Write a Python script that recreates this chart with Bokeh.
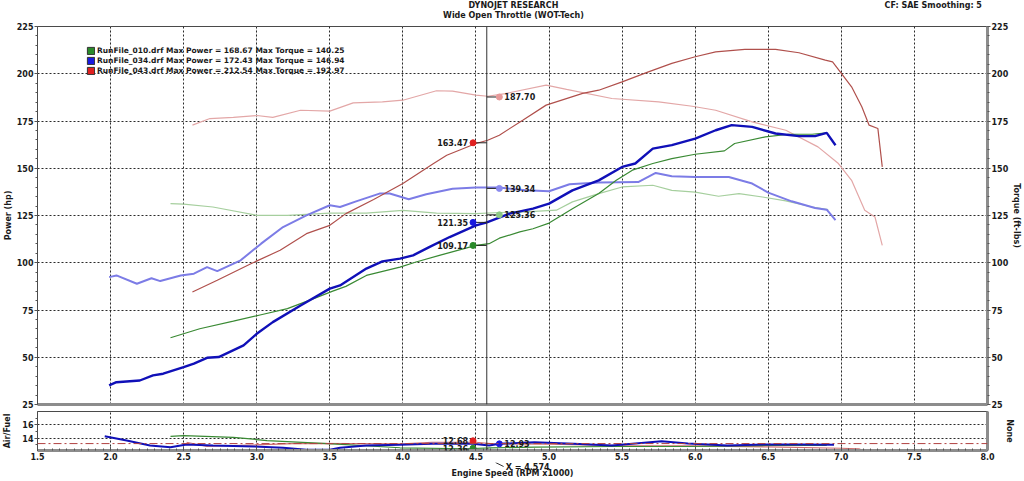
from bokeh.plotting import figure
from bokeh.models import (Range1d, LinearAxis, FixedTicker, Span, Label, Legend,
                          LegendItem, Grid, PrintfTickFormatter)
from bokeh.layouts import column
from bokeh.embed import file_html
from bokeh.resources import INLINE

# ---------------- data ----------------
run_names = ["RunFile_010.drf", "RunFile_034.drf", "RunFile_043.drf"]
max_power = [168.67, 172.43, 212.54]
max_torque = [140.25, 146.94, 192.97]

green_pwr_rpm = [2.41, 2.61, 2.84, 3.03, 3.21, 3.39, 3.52, 3.61, 3.75, 3.98, 4.09, 4.25, 4.50, 4.59,
                 4.66, 4.80, 4.89, 5.00, 5.16, 5.34, 5.46, 5.57, 5.71, 5.84, 6.00, 6.20, 6.27, 6.48,
                 6.64, 6.80, 6.90]
green_pwr = [60.3, 65.1, 69.1, 72.5, 75.7, 81.0, 85.0, 87.5, 93.3, 97.7, 100.4, 103.9, 109.2, 110.1,
             113.0, 116.3, 118.0, 121.0, 128.6, 136.6, 143.6, 149.0, 152.5, 155.1, 157.4, 159.2, 163.1,
             166.6, 168.0, 168.0, 168.7]
green_trq_rpm = [2.41, 2.50, 2.70, 3.00, 3.21, 3.50, 3.75, 4.00, 4.23, 4.50, 4.66, 4.84, 5.05, 5.16,
                 5.34, 5.50, 5.71, 5.84, 6.00, 6.16, 6.30, 6.46, 6.62, 6.80, 6.91]
green_trq = [131.3, 131.0, 129.5, 125.1, 125.1, 126.3, 126.3, 127.7, 126.3, 126.0, 126.6, 126.9, 127.8,
             132.2, 136.6, 140.1, 141.0, 138.3, 137.4, 135.2, 136.6, 134.8, 132.7, 129.5, 128.1]

blue_pwr_rpm = [1.99, 2.04, 2.20, 2.29, 2.36, 2.50, 2.57, 2.66, 2.74, 2.91, 3.00, 3.11, 3.30, 3.50,
                3.57, 3.75, 3.86, 3.98, 4.07, 4.18, 4.32, 4.50, 4.57, 4.73, 4.89, 5.00, 5.16, 5.34,
                5.50, 5.59, 5.71, 5.84, 6.00, 6.14, 6.25, 6.39, 6.55, 6.71, 6.82, 6.90, 6.96]
blue_pwr = [35.1, 36.8, 37.7, 40.4, 41.3, 44.8, 46.6, 49.7, 50.1, 56.3, 62.4, 68.6, 77.4, 86.3,
            88.0, 96.9, 100.7, 102.2, 103.9, 108.3, 113.6, 119.8, 121.2, 126.0, 128.6, 131.3, 138.3,
            143.6, 150.7, 152.5, 160.4, 162.2, 165.7, 170.1, 172.8, 171.9, 168.4, 167.0, 167.0,
            168.7, 162.2]
blue_trq_rpm = [1.99, 2.04, 2.18, 2.28, 2.34, 2.48, 2.57, 2.66, 2.73, 2.89, 3.03, 3.18, 3.34, 3.50,
                3.57, 3.68, 3.84, 3.91, 4.04, 4.16, 4.34, 4.50, 4.66, 4.84, 5.00, 5.14, 5.34, 5.61,
                5.73, 5.84, 6.00, 6.23, 6.39, 6.50, 6.66, 6.82, 6.90, 6.96]
blue_trq = [92.4, 93.3, 88.9, 91.8, 90.3, 93.3, 94.2, 97.7, 95.6, 101.3, 110.1, 118.9, 125.1, 130.4,
            129.5, 132.5, 136.6, 136.6, 133.6, 136.2, 139.2, 139.8, 139.8, 138.3, 137.8, 141.5,
            142.4, 142.7, 147.5, 145.8, 145.4, 145.4, 141.9, 137.1, 132.5, 129.0, 128.1, 122.5]

red_pwr_rpm = [2.56, 2.73, 2.96, 3.16, 3.34, 3.50, 3.61, 3.80, 4.00, 4.21, 4.30, 4.50, 4.58, 4.66,
               4.82, 4.98, 5.23, 5.34, 5.50, 5.68, 5.84, 6.00, 6.14, 6.34, 6.55, 6.71, 6.89, 6.94,
               7.00, 7.07, 7.14, 7.19, 7.25, 7.28]
red_pwr = [84.5, 90.7, 99.5, 106.6, 115.4, 119.8, 126.0, 133.5, 141.9, 152.5, 156.9, 163.1, 164.8,
           167.5, 175.4, 183.4, 189.6, 191.3, 195.7, 201.0, 205.5, 209.0, 211.6, 212.9, 212.9, 211.1,
           207.2, 206.3, 200.2, 193.1, 182.5, 172.8, 171.0, 150.7]
red_trq_rpm = [2.56, 2.68, 2.84, 3.00, 3.11, 3.30, 3.50, 3.66, 3.86, 4.00, 4.23, 4.34, 4.50, 4.58,
               4.70, 4.98, 5.12, 5.43, 5.75, 5.98, 6.14, 6.39, 6.62, 6.84, 6.98, 7.07, 7.16, 7.23, 7.28]
red_trq = [172.8, 176.3, 176.9, 177.9, 176.9, 180.7, 180.2, 184.6, 185.1, 186.0, 191.0, 190.8, 188.7,
           188.1, 189.5, 194.0, 191.7, 186.9, 185.1, 182.8, 180.7, 174.5, 170.1, 161.3, 152.5, 143.6,
           127.8, 124.2, 109.2]

blue_af_rpm = [1.96, 2.11, 2.27, 2.41, 2.52, 2.70, 2.98, 3.18, 3.34, 3.50, 3.57, 3.75, 3.98, 4.20,
               4.48, 4.59, 4.66, 4.90, 5.17, 5.43, 5.77, 5.95, 6.22, 6.48, 6.74, 6.95]
blue_af = [14.30, 13.66, 12.91, 12.66, 13.06, 12.91, 12.76, 12.57, 12.27, 12.27, 12.57, 12.91, 13.01,
           13.16, 13.16, 12.91, 13.16, 13.40, 13.16, 12.91, 13.55, 13.22, 12.91, 13.06, 13.06, 13.01]
green_af_rpm = [2.41, 2.50, 2.84, 3.07, 3.52, 3.98, 4.43, 4.60, 4.90, 5.43, 5.95, 6.48, 6.90]
green_af = [14.30, 14.40, 14.15, 13.66, 13.16, 12.57, 12.42, 12.57, 12.66, 12.76, 12.76, 12.91, 12.91]
red_af_rpm = [2.52, 2.66, 2.84, 3.30, 4.00, 4.20, 4.50, 4.60, 5.00, 5.50, 6.00, 6.50, 7.00, 7.12, 7.15]
red_af = [13.40, 12.76, 12.91, 13.22, 13.16, 13.40, 13.40, 13.20, 13.10, 12.90, 12.85, 12.70, 12.50,
          12.40, 12.16]
af_target = 13.2

cursor_rpm = 4.574
pwr_mark_rpm = 4.48
trq_mark_rpm = 4.66
pwr_marks = [163.47, 121.35, 109.17]       # red, blue, green
trq_marks = [187.70, 139.34, 125.36]       # red, blue, green
af_mark_rpm = [4.48, 4.48, 4.66]
af_mark_y = [13.62, 12.50, 13.16]
af_mark_text = ["12.68", "12.36", "12.93"]

x_ticks = [1.5, 2.0, 2.5, 3.0, 3.5, 4.0, 4.5, 5.0, 5.5, 6.0, 6.5, 7.0, 7.5, 8.0]
y_ticks = [25, 50, 75, 100, 125, 150, 175, 200, 225]
af_ticks = [14, 16]

title_1 = "DYNOJET RESEARCH"
title_2 = "Wide Open Throttle (WOT-Tech)"
title_cf = "CF: SAE  Smoothing: 5"

# ---------------- style ----------------
FONT = "DejaVu Sans"
INK = "#1a1a1a"
GRID = "#2a2a2a"
SHADOW = "#8c8c8c"
C_RP, C_RT = "#b0504c", "#e3a7a7"
C_BP, C_BT = "#1010b8", "#7c7ce6"
C_GP, C_GT = "#3a8a34", "#a6cf9e"
M_R, M_RT = "#e02020", "#e79a9a"
M_B, M_BT = "#1a1ae0", "#8a8aee"
M_G, M_GT = "#2a8a2a", "#8cc884"

X0, X1 = 1.5, 8.0
Y0, Y1 = 25, 225
A0, A1 = 12.16, 18.03
W = 1024
BL, BR = 37, 34


def lbl(fig, x, y, text, align="left", dx=0, dy=0, color=INK, size="8px"):
    fig.add_layout(Label(x=x, y=y, text=text, x_offset=dx, y_offset=dy,
                         text_align=align, text_baseline="middle", text_font=FONT,
                         text_font_size=size, text_font_style="bold", text_color=color))


def style_axis(ax, ticks, minor):
    ax.ticker = FixedTicker(ticks=ticks, minor_ticks=minor)
    ax.major_label_text_font = FONT
    ax.major_label_text_font_size = "8px"
    ax.major_label_text_font_style = "bold"
    ax.major_label_text_color = INK
    ax.major_tick_out = 3
    ax.major_tick_in = 0
    ax.minor_tick_out = 2
    ax.minor_tick_in = 0
    ax.major_label_standoff = 1
    ax.major_tick_line_color = "#555555"
    ax.minor_tick_line_color = "#555555"
    ax.axis_line_color = "#4a4a4a"
    ax.axis_label_text_font = FONT
    ax.axis_label_text_font_size = "8px"
    ax.axis_label_text_font_style = "bold"
    ax.axis_label_text_color = INK


def shadow_axis(label=None, standoff=0):
    ax = LinearAxis(ticker=FixedTicker(ticks=[]), major_label_text_font_size="0px",
                    major_tick_out=0, minor_tick_out=0, major_label_standoff=0,
                    axis_line_color=SHADOW, axis_line_width=3)
    if label:
        ax.axis_label = label
        ax.axis_label_standoff = standoff
        ax.axis_label_text_font = FONT
        ax.axis_label_text_font_size = "8px"
        ax.axis_label_text_font_style = "bold"
        ax.axis_label_text_color = INK
    return ax


# ---------------- top title strip ----------------
top = figure(width=W, height=20, x_range=Range1d(0, W), y_range=Range1d(20, 0),
             x_axis_location=None, y_axis_location=None, output_backend="svg",
             toolbar_location=None, min_border=0, outline_line_color=None,
             border_fill_color="white")
top.xgrid.visible = False
top.ygrid.visible = False
lbl(top, 513, 5, title_1, align="center")
lbl(top, 513, 15, title_2, align="center")
lbl(top, 1021, 5, title_cf, align="right")

# ---------------- main figure ----------------
p = figure(width=W, height=391, x_range=Range1d(X0, X1), y_range=Range1d(Y0, Y1),
           x_axis_location=None, output_backend="svg", toolbar_location=None,
           min_border_left=BL, min_border_right=BR, min_border_top=6, min_border_bottom=7,
           border_fill_color="white", outline_line_color="#4a4a4a")

style_axis(p.yaxis[0], y_ticks, list(range(25, 226, 5)))
p.yaxis[0].axis_label = "Power (hp)"
p.yaxis[0].axis_label_standoff = 1
p.extra_y_ranges = {"trq": Range1d(Y0, Y1)}
rax = LinearAxis(y_range_name="trq")
style_axis(rax, y_ticks, list(range(25, 226, 5)))
rax.axis_line_color = SHADOW
rax.axis_line_width = 3
rax.axis_label = "Torque (ft-lbs)"
rax.axis_label_standoff = 1
p.add_layout(rax, "right")
p.add_layout(shadow_axis(), "below")

p.ygrid[0].ticker = FixedTicker(ticks=y_ticks[1:-1])
p.ygrid[0].grid_line_color = GRID
p.ygrid[0].grid_line_dash = "2 2"
xg = Grid(dimension=0, ticker=FixedTicker(ticks=x_ticks[1:-1]), grid_line_color=GRID,
          grid_line_dash="2 2")
p.add_layout(xg)

p.line(red_trq_rpm, red_trq, line_color=C_RT, line_width=1.2)
p.line(green_trq_rpm, green_trq, line_color=C_GT, line_width=1.2)
p.line(blue_trq_rpm, blue_trq, line_color=C_BT, line_width=2)
p.line(red_pwr_rpm, red_pwr, line_color=C_RP, line_width=1.2)
p.line(green_pwr_rpm, green_pwr, line_color=C_GP, line_width=1.2)
p.line(blue_pwr_rpm, blue_pwr, line_color=C_BP, line_width=2.4)

p.add_layout(Span(location=cursor_rpm, dimension="height", line_color="#333333", line_width=1))

p.segment(x0=[pwr_mark_rpm] * 3, y0=pwr_marks, x1=[cursor_rpm] * 3, y1=pwr_marks,
          line_color="#222222", line_width=1)
p.segment(x0=[cursor_rpm] * 3, y0=trq_marks, x1=[trq_mark_rpm] * 3, y1=trq_marks,
          line_color="#222222", line_width=1)
p.scatter(x=[pwr_mark_rpm] * 3, y=pwr_marks, size=6, fill_color=[M_R, M_B, M_G],
          line_color=[M_R, M_B, M_G])
p.scatter(x=[trq_mark_rpm] * 3, y=trq_marks, size=6, fill_color=[M_RT, M_BT, M_GT],
          line_color=[M_RT, M_BT, M_GT])
for v in pwr_marks:
    lbl(p, pwr_mark_rpm, v, f"{v:.2f}", align="right", dx=-5)
for v in trq_marks:
    lbl(p, trq_mark_rpm, v, f"{v:.2f}", align="left", dx=5)

# legend (swatches only; renderers hold a single undefined point)
nan = float("nan")
leg_items = []
for name, mp, mt, col in zip(run_names, max_power, max_torque, [M_G, M_B, M_R]):
    r = p.quad(left=[nan], right=[nan], top=[nan], bottom=[nan], fill_color=col,
               line_color="#333333")
    leg_items.append(LegendItem(label=f"{name} Max Power = {mp:.2f} Max Torque = {mt:.2f}",
                                renderers=[r]))
legend = Legend(items=leg_items, location=(49, 329), glyph_width=9, glyph_height=9,
                label_height=9, label_standoff=2, spacing=1, padding=0, margin=0,
                border_line_alpha=0, background_fill_alpha=0, label_text_font=FONT,
                label_text_font_size="7.5px", label_text_font_style="bold",
                label_text_color=INK)
p.add_layout(legend)

# ---------------- air/fuel panel ----------------
p2 = figure(width=W, height=51, x_range=p.x_range, y_range=Range1d(A0, A1),
            output_backend="svg", toolbar_location=None,
            min_border_left=BL, min_border_right=BR, min_border_top=0, min_border_bottom=12,
            border_fill_color="white", outline_line_color="#4a4a4a")
xa = p2.xaxis[0]
style_axis(xa, x_ticks, [round(1.5 + 0.05 * i, 2) for i in range(131)])
xa.formatter = PrintfTickFormatter(format="%.1f")
xa.major_tick_out = 0
xa.major_tick_in = 4
xa.minor_tick_out = 0
xa.minor_tick_in = 2
xa.major_label_standoff = 2
xa.axis_line_color = SHADOW
xa.axis_line_width = 3
ya = p2.yaxis[0]
style_axis(ya, af_ticks, [13, 15, 17])
ya.axis_label = "Air/Fuel"
ya.axis_label_standoff = 7
p2.add_layout(shadow_axis("None", 17), "right")

p2.ygrid[0].ticker = FixedTicker(ticks=af_ticks)
p2.ygrid[0].grid_line_color = GRID
p2.ygrid[0].grid_line_dash = "2 2"
p2.xgrid[0].ticker = FixedTicker(ticks=x_ticks[1:-1])
p2.xgrid[0].grid_line_color = GRID
p2.xgrid[0].grid_line_dash = "2 2"

p2.add_layout(Span(location=af_target, dimension="width", line_color="#b04040",
                   line_width=1, line_dash="8 3 2 3"))
p2.line(red_af_rpm, red_af, line_color="#d07070", line_width=1.2)
p2.line(green_af_rpm, green_af, line_color=C_GP, line_width=1.2)
p2.line(blue_af_rpm, blue_af, line_color=C_BP, line_width=2)
p2.add_layout(Span(location=cursor_rpm, dimension="height", line_color="#333333", line_width=1))
p2.segment(x0=[cursor_rpm], y0=[12.45], x1=[cursor_rpm + 0.03], y1=[A0],
           line_color="#333333", line_width=1)
p2.scatter(x=af_mark_rpm, y=af_mark_y, size=6, fill_color=[M_R, M_G, M_B],
           line_color=[M_R, M_G, M_B])
for xr, yv, t in zip(af_mark_rpm, af_mark_y, af_mark_text):
    if xr < cursor_rpm:
        lbl(p2, xr, yv, t, align="right", dx=-5)
    else:
        lbl(p2, xr, yv, t, align="left", dx=5)

# ---------------- bottom strip (cursor readout and axis title) ----------------
bot = figure(width=W, height=18, x_range=p.x_range, y_range=Range1d(18, 0),
             x_axis_location=None, y_axis_location=None, output_backend="svg",
             toolbar_location=None, min_border_left=BL, min_border_right=BR,
             min_border_top=0, min_border_bottom=0, outline_line_color=None,
             border_fill_color="white")
bot.xgrid.visible = False
bot.ygrid.visible = False
bot.segment(x0=[cursor_rpm + 0.06], y0=[0], x1=[cursor_rpm + 0.115], y1=[4],
            line_color="#333333", line_width=1)
lbl(bot, cursor_rpm, 5, f"X = {cursor_rpm:.3f}", align="left", dx=19)
xmid = (X0 + X1) / 2
lbl(bot, xmid, 11, "Engine Speed (RPM x1000)", align="center")

layout = column(top, p, p2, bot)
open("out.html", "w").write(file_html(layout, INLINE))
